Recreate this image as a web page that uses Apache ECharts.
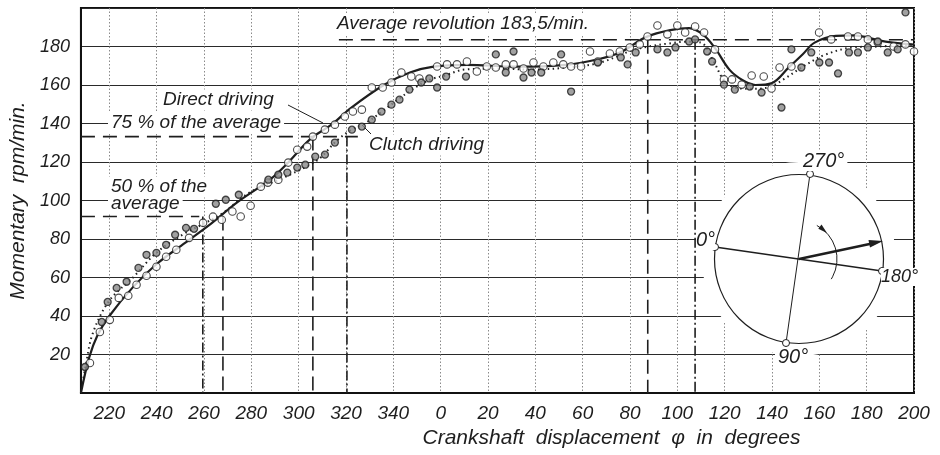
<!DOCTYPE html>
<html>
<head>
<meta charset="utf-8">
<script src="https://cdn.jsdelivr.net/npm/echarts@6/dist/echarts.min.js"></script>
<style>
  html, body { margin: 0; padding: 0; background: #fff; }
  #chart { width: 940px; height: 455px; }
</style>
</head>
<body>
<div id="chart"></div>
<script>
// crank angle runs on past 360, labels are shown modulo 360
const xTicks = [220, 240, 260, 280, 300, 320, 340, 360, 380, 400, 420, 440, 460, 480, 500, 520, 540, 560]
const yTicks = [20, 40, 60, 80, 100, 120, 140, 160, 180]

// fitted curves
const directCurve = [[208, 0], [211.5, 18.5], [215, 30], [220, 40], [230, 55], [240, 67], [252, 78], [263, 88], [274, 99],
  [288, 111], [295, 119], [305, 132], [314, 139.5], [322, 148], [336, 160], [347, 166.5], [357, 169.5], [371, 170.5],
  [392, 169.5], [413, 170.5], [427, 173.5], [436, 177], [447, 185], [457, 188.5], [465, 189.5], [471, 186], [476, 179],
  [482, 168], [487.6, 162.5], [493, 160], [500, 161], [507, 169], [513, 176], [518, 182], [527, 185.5], [535, 185.8],
  [541, 184.5], [548, 182.5], [560, 181]]
const clutchCurve = [[208, 0], [210, 14], [213, 31], [220, 48], [230, 60], [240, 73], [252, 83], [260, 88], [268, 93.5],
  [279, 104], [293, 111.5], [303, 117.5], [309, 122], [316, 131], [322, 136.5], [328, 140], [335, 146], [342, 152.5],
  [349, 158.5], [356, 163], [362, 165], [370, 168], [385, 168.5], [398, 168], [413, 169], [427, 171.5], [441, 178],
  [448, 180], [456, 181.5], [464, 182.5], [470, 182], [475, 173], [480, 162], [485, 158.5], [492, 158], [499, 159],
  [505, 163], [513, 169.5], [522, 175.5], [534, 179.5], [545, 180], [560, 181]]

// measured points
const directPts = [[211.8, 15.6], [216, 31.7], [220.2, 38], [224, 49.4], [228, 50.5], [231.5, 56.2], [235.7, 60.9],
  [239.9, 65.6], [244, 70.8], [248.3, 74.4], [253.7, 80.6], [259.6, 88.4], [263.8, 91.6], [267.5, 90], [272, 94.3],
  [275.5, 91.7], [279.7, 97.3], [284, 107.2], [287, 109.3], [291.4, 110.8], [295.6, 119.7], [299.4, 126.4],
  [303.6, 128], [306, 133.2], [311.1, 136.8], [315.3, 139.4], [319.5, 143.6], [322.9, 146.2], [326.7, 147.2],
  [330.9, 158.7], [335.5, 158.7], [339.2, 161.3], [343.4, 166.5], [347.6, 164.4], [351, 163.4], [358.5, 169.6],
  [362.7, 170.7], [366.9, 170.7], [371.1, 172.2], [375.3, 167], [379.5, 169.6], [383.3, 169.1], [387.5, 170.7],
  [390.8, 170.7], [395, 168.6], [399.2, 171.7], [403.4, 169.6], [407.6, 171.7], [411.8, 170.7], [415.1, 169.6],
  [419.3, 169.6], [423.1, 177.4], [426.4, 172.2], [431.5, 176.4], [435.7, 177.4], [439.9, 179.5], [444.1, 181.1],
  [447.4, 185.2], [451.6, 190.9], [455.8, 186.3], [460, 190.9], [463.3, 187.3], [467.5, 190.4], [471.3, 187.3],
  [475.9, 178.5], [479.7, 162.9], [483.1, 162.9], [487.2, 160.2], [491.4, 164.9], [496.5, 164.4], [499.8, 158.2],
  [503.2, 169.1], [508.2, 169.6], [519.9, 187.3], [525, 183.7], [532.1, 185.2], [536.3, 185.2], [540.5, 183.7],
  [544.7, 182.1], [551.4, 180], [556.4, 181.1], [560, 177.4]]
const clutchPts = [[209.7, 13.5], [216.8, 36.9], [219.3, 47.3], [223.1, 54.6], [227.3, 57.8], [232.3, 65],
  [235.7, 71.8], [239.9, 72.8], [244, 77], [247.8, 82.2], [252.4, 85.8], [255.8, 85.3], [265, 98.3], [269.2, 100.4],
  [274.7, 103], [287.2, 110.8], [291.4, 113.4], [295.2, 114.5], [299.4, 117.1], [302.8, 118.6], [307, 122.8],
  [311.1, 123.8], [315.3, 130.1], [322.5, 136.8], [326.7, 138.4], [330.9, 142], [335, 146.2], [339.2, 149.8],
  [342.6, 152.4], [346.8, 157.6], [351.8, 161.3], [355.2, 163.4], [358.5, 158.7], [362.3, 164.4], [370.7, 164.4],
  [383.3, 175.9], [387.5, 166.5], [390.8, 177.4], [395, 163.9], [398.4, 166.5], [402.5, 166.5], [410.9, 175.9],
  [415.1, 156.6], [426.4, 171.7], [436.1, 174.3], [439, 170.7], [442.4, 176.9], [451.6, 178.5], [455.8, 176.9],
  [459.2, 179.5], [465, 182.6], [467.5, 183.7], [472.6, 177.4], [474.7, 172.2], [479.7, 160.2], [484.3, 157.6],
  [490.6, 159.2], [495.6, 156.1], [504, 148.3], [508.2, 178.5], [512.4, 169.1], [516.6, 176.9], [520, 171.7],
  [524.1, 171.7], [527.9, 166], [532.5, 176.9], [536.3, 176.9], [540.5, 179.5], [544.7, 182.6], [548.9, 176.9],
  [553.1, 178.5], [556.4, 197.7]]

// levels: average 183.5, 75 % and 50 % of it (as drawn)
const levelY = [183.5, 133.2, 91.7]
const levelFrom = [317, 208, 208]
const levelTo = [560, 325, 258]
// where each drive reaches the level
const directCross = [447.5, 306, 268]
const clutchCross = [467.5, 320.4, 259.5]

const FONT = '"Liberation Sans", Arial, sans-serif'
const INK = '#1e1e1e'

const chart = echarts.init(document.getElementById('chart'), null, { renderer: 'canvas' })

function guide(points, dash, name) {
  return {
    type: 'line', name: name, data: points, symbol: 'none', silent: true, z: 3,
    lineStyle: { color: INK, width: 1.6, type: dash }
  }
}

const series = []
levelY.forEach((y, i) => {
  series.push(guide([[levelFrom[i], y], [levelTo[i], y]], [14, 8], 'level' + i))
  series.push(guide([[directCross[i], y], [directCross[i], 0]], [14, 6], 'direct' + i))
  series.push(guide([[clutchCross[i], y], [clutchCross[i], 0]], [10, 3, 2, 3], 'clutch' + i))
})
series.push({
  type: 'line', name: 'Direct driving', data: directCurve, smooth: 0.35, symbol: 'none', z: 4,
  lineStyle: { color: INK, width: 2.2 }
})
series.push({
  type: 'line', name: 'Clutch driving', data: clutchCurve, smooth: 0.35, symbol: 'none', z: 4,
  lineStyle: { color: INK, width: 2, type: [1.5, 3.5] }
})
series.push({
  type: 'scatter', name: 'Direct points', data: directPts, symbol: 'circle', symbolSize: 7.5, z: 5,
  itemStyle: { color: '#fff', borderColor: INK, borderWidth: 1.1 }
})
series.push({
  type: 'scatter', name: 'Clutch points', data: clutchPts, symbol: 'circle', symbolSize: 7, z: 5,
  itemStyle: { color: '#8a8a8a', borderColor: INK, borderWidth: 1.3 }
})

function label(text, x, y, size, extra) {
  return Object.assign({
    type: 'text', z: 1, silent: true,
    style: Object.assign({
      text: text, x: x, y: y, fill: INK,
      font: 'italic ' + size + 'px ' + FONT,
      textAlign: 'left', textVerticalAlign: 'middle'
    }, extra || {})
  })
}

const cx = 799, cy = 259, R = 84.5
const graphic = [
  { type: 'circle', z: 1, silent: true, shape: { cx: cx, cy: cy, r: 97 }, style: { fill: '#fff' } },
  { type: 'circle', z: 1, silent: true, shape: { cx: cx, cy: cy, r: R }, style: { fill: 'none', stroke: INK, lineWidth: 1.2 } },
  { type: 'line', z: 1, silent: true, shape: { x1: 715, y1: 247, x2: 882, y2: 271 }, style: { stroke: INK, lineWidth: 1.4 } },
  { type: 'line', z: 1, silent: true, shape: { x1: 810, y1: 174, x2: 786, y2: 343 }, style: { stroke: INK, lineWidth: 1 } },
  { type: 'line', z: 1, silent: true, shape: { x1: cx, y1: cy, x2: 872, y2: 243.5 }, style: { stroke: INK, lineWidth: 2.4 } },
  { type: 'polygon', z: 1, silent: true, shape: { points: [[883, 241], [870, 247.5], [868.5, 240]] }, style: { fill: INK } },
  { type: 'arc', z: 1, silent: true, shape: { cx: cx, cy: cy, r: 38, startAngle: -62 * Math.PI / 180, endAngle: 32 * Math.PI / 180, clockwise: true }, style: { fill: 'none', stroke: INK, lineWidth: 1 } },
  { type: 'polygon', z: 1, silent: true, shape: { points: [[827, 233], [818.3, 228.8], [821.5, 224.5]] }, style: { fill: INK } },
  { type: 'circle', z: 1, silent: true, shape: { cx: 715, cy: 247, r: 3.5 }, style: { fill: '#fff', stroke: INK, lineWidth: 1 } },
  { type: 'circle', z: 1, silent: true, shape: { cx: 882, cy: 271, r: 3.5 }, style: { fill: '#fff', stroke: INK, lineWidth: 1 } },
  { type: 'circle', z: 1, silent: true, shape: { cx: 810, cy: 174, r: 3.5 }, style: { fill: '#fff', stroke: INK, lineWidth: 1 } },
  { type: 'circle', z: 1, silent: true, shape: { cx: 786, cy: 343, r: 3.5 }, style: { fill: '#fff', stroke: INK, lineWidth: 1 } },
  label('270°', 800, 161, 20, { backgroundColor: '#fff', padding: [0, 3] }),
  label('90°', 775, 357, 20, { backgroundColor: '#fff', padding: [0, 3] }),
  label('0°', 696, 240, 20, { backgroundColor: '#fff' }),
  label('180°', 881, 277, 18, { backgroundColor: '#fff' }),
  label('Average revolution 183,5/min.', 335, 24, 19, { backgroundColor: '#fff', padding: [1, 2] }),
  label('Direct driving', 161, 100, 19, { backgroundColor: '#fff', padding: [1, 2] }),
  label('75 % of the average', 108, 123, 19, { backgroundColor: '#fff', padding: [1, 3] }),
  label('Clutch driving', 367, 145, 19, { backgroundColor: '#fff', padding: [1, 2] }),
  label('50 % of the', 108, 187, 19, { backgroundColor: '#fff', padding: [1, 3] }),
  label('average', 108, 204, 19, { backgroundColor: '#fff', padding: [0, 3] }),
  { type: 'line', z: 1, silent: true, shape: { x1: 288, y1: 105, x2: 323, y2: 123 }, style: { stroke: INK, lineWidth: 1 } },
  { type: 'line', z: 1, silent: true, shape: { x1: 362, y1: 125, x2: 371, y2: 134 }, style: { stroke: INK, lineWidth: 1 } }
]

chart.setOption({
  backgroundColor: '#fff',
  animation: false,
  grid: { left: 74, right: 26, top: 8, bottom: 62, show: true, borderColor: '#111', borderWidth: 2 },
  xAxis: {
    type: 'value', min: 208, max: 560,
    name: 'Crankshaft  displacement  φ  in  degrees',
    nameLocation: 'middle', nameGap: 32,
    nameTextStyle: { fontFamily: FONT, fontStyle: 'italic', fontSize: 21, color: INK, padding: [0, 0, 0, 228] },
    axisLine: { lineStyle: { color: '#111', width: 2 } },
    axisTick: { show: false, customValues: xTicks },
    axisLabel: {
      customValues: xTicks, margin: 11, color: INK, fontFamily: FONT, fontStyle: 'italic', fontSize: 19,
      formatter: (v) => String(v % 360)
    },
    splitLine: { show: true, lineStyle: { color: '#8a8a8a', width: 1, type: [1.5, 2] } }
  },
  yAxis: {
    type: 'value', min: 0, max: 200, interval: 20,
    name: 'Momentary  rpm/min.',
    nameLocation: 'middle', nameGap: 46,
    nameTextStyle: { fontFamily: FONT, fontStyle: 'italic', fontSize: 21, color: INK },
    axisLine: { lineStyle: { color: '#111', width: 2 } },
    axisTick: { show: false },
    axisLabel: {
      margin: 11, color: INK, fontFamily: FONT, fontStyle: 'italic', fontSize: 18,
      formatter: (v) => (yTicks.indexOf(v) >= 0 ? String(v) : '')
    },
    splitLine: { show: true, lineStyle: { color: '#2a2a2a', width: 1.2 } }
  },
  graphic: graphic,
  series: series
})
</script>
</body>
</html>
